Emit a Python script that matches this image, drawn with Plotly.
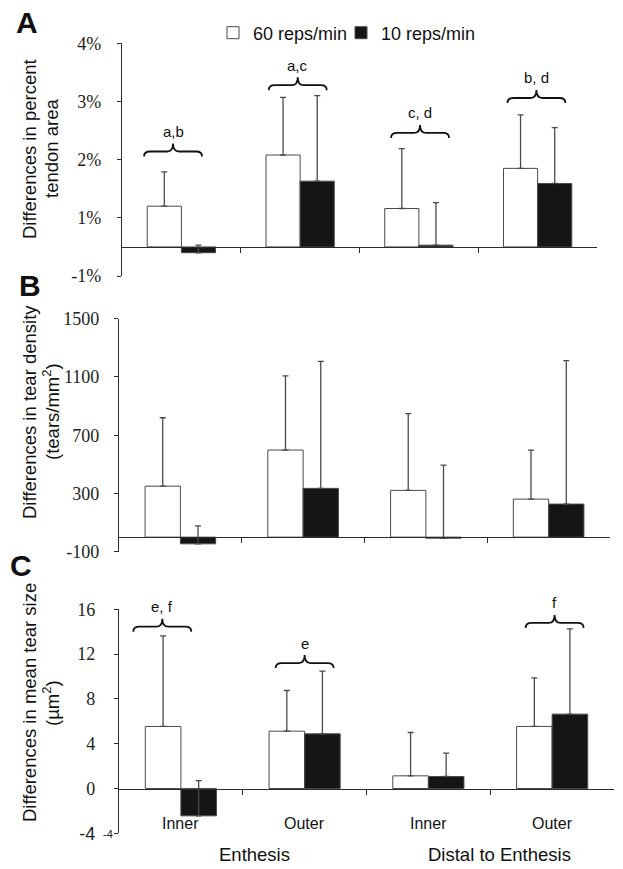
import plotly.graph_objects as go

W, H = 623, 869

# ---------------- data ----------------
categories = ["Inner", "Outer", "Inner", "Outer"]
regions = ["Enthesis", "Distal to Enthesis"]
series_names = ["60 reps/min", "10 reps/min"]

# Panel A: differences in percent tendon area (read against the printed tick labels)
area_60 = [1.20, 2.08, 1.16, 1.85]
area_60_err = [0.59, 0.99, 1.03, 0.92]
area_10 = [0.40, 1.63, 0.53, 1.59]
area_10_err = [0.13, 1.47, 0.73, 0.96]
area_base = 0.5
area_tickvals = [0, 1, 2, 3, 4]
area_ticktext = ["-1%", "1%", "2%", "3%", "4%"]
area_sig_labels = ["a,b", "a,c", "c, d", "b, d"]
area_sig_x = [-0.07, 0.98, 2.01, 2.99]
area_sig_y = [2.14, 3.28, 2.46, 3.06]

# Panel B: differences in tear density (tears/mm2)
density_60 = [350, 598, 321, 261]
density_60_err = [470, 509, 527, 337]
density_10 = [-46, 335, -7, 227]
density_10_err = [124, 872, 502, 985]
density_tickvals = [-100, 300, 700, 1100, 1500]

# Panel C: differences in mean tear size (um2)
size_60 = [5.54, 5.12, 1.13, 5.54]
size_60_err = [8.09, 3.63, 3.87, 4.34]
size_10 = [-2.44, 4.88, 1.07, 6.64]
size_10_err = [3.15, 5.60, 2.09, 7.62]
size_tickvals = [-4, 0, 4, 8, 12, 16]
size_sig_labels = ["e, f", "e", "f"]
size_sig_x = [-0.15, 1.0, 3.02]
size_sig_y = [14.45, 11.2, 14.78]

# ---------------- style ----------------
SANS = "Liberation Sans, Arial, sans-serif"
SERIF = "Liberation Serif, Times New Roman, serif"
AX = "#2b2b2b"
WHITE_FILL = "#ffffff"
BLACK_FILL = "#151515"
EDGE = "#4a4a4a"
ERR = "#4a4a4a"

def px_x(x):
    return x / W

def px_y(y):
    return 1 - y / H

# panel geometry in pixels
panels = {
    "A": dict(x=(122, 597), y=(43.3, 276.0), r=(0, 4), base=area_base, stand=12),
    "B": dict(x=(119, 610), y=(318.7, 551.7), r=(-100, 1500), base=0, stand=11),
    "C": dict(x=(119, 614), y=(609.3, 833.3), r=(-4, 16), base=0, stand=15),
}

fig = go.Figure()
xs = list(range(len(categories)))

def add_pair(idx, v60, e60, v10, e10, base, show):
    xa = "x" if idx == 1 else f"x{idx}"
    ya = "y" if idx == 1 else f"y{idx}"
    for name, vals, errs, fill, leg in [
        (series_names[0], v60, e60, WHITE_FILL, "legend"),
        (series_names[1], v10, e10, BLACK_FILL, "legend2"),
    ]:
        fig.add_trace(go.Bar(
            x=xs, y=[v - base for v in vals], base=base,
            name=name, showlegend=show, legendgroup=name, legend=leg,
            offsetgroup=name, xaxis=xa, yaxis=ya,
            marker=dict(color=fill, line=dict(color=EDGE, width=1)),
            error_y=dict(type="data", symmetric=False, array=errs,
                         arrayminus=[0] * len(errs), color=ERR,
                         thickness=1.3, width=3),
        ))

add_pair(1, area_60, area_60_err, area_10, area_10_err, area_base, True)
add_pair(2, density_60, density_60_err, density_10, density_10_err, 0, False)
add_pair(3, size_60, size_60_err, size_10, size_10_err, 0, False)

legend_style = dict(orientation="h", xanchor="left", yanchor="middle",
                    font=dict(family=SANS, size=18, color="#111"),
                    bgcolor="rgba(0,0,0,0)", itemclick=False)

layout = dict(
    width=W, height=H, margin=dict(l=0, r=0, t=0, b=0, autoexpand=False),
    paper_bgcolor="white", plot_bgcolor="white",
    barmode="group", bargap=0.425, bargroupgap=0,
    showlegend=True,
    legend=dict(x=px_x(213), y=px_y(33), **legend_style),
    legend2=dict(x=px_x(341), y=px_y(33), **legend_style),
)

ytick_sets = {
    "A": (area_tickvals, area_ticktext),
    "B": (density_tickvals, [str(v) for v in density_tickvals]),
    "C": (size_tickvals, ["<span style='font-family:Liberation Sans'>-4</span>"] +
          [str(v) for v in size_tickvals[1:]]),
}

for i, key in enumerate(["A", "B", "C"], start=1):
    p = panels[key]
    xd = [px_x(p["x"][0]), px_x(p["x"][1])]
    yd = [px_y(p["y"][1]), px_y(p["y"][0])]
    r0, r1 = p["r"]
    pos = yd[0] + (p["base"] - r0) / (r1 - r0) * (yd[1] - yd[0])
    sx = "" if i == 1 else str(i)
    tv, tt = ytick_sets[key]
    layout["xaxis" + sx] = dict(
        domain=xd, range=[-0.5, len(categories) - 0.5], anchor="free",
        position=pos, showline=True, linecolor=AX, linewidth=1.3,
        ticks="outside", ticklen=5, tickwidth=1.2, tickcolor=AX,
        tickvals=[0.5, 1.5, 2.5], showticklabels=False, showgrid=False,
        zeroline=False, fixedrange=True,
    )
    layout["yaxis" + sx] = dict(
        domain=yd, range=[r0, r1], anchor="x" + sx if i > 1 else "x",
        showline=True, linecolor=AX, linewidth=1.3, ticks="outside",
        ticklen=4, tickwidth=1.2, tickcolor=AX, tickvals=tv, ticktext=tt,
        tickfont=dict(family=SERIF, size=18, color="#222"),
        ticklabelstandoff=p["stand"], showgrid=False, zeroline=False,
        fixedrange=True,
    )

fig.update_layout(**layout)

# ---------------- significance braces ----------------
def brace_path(p, xc, yl):
    ppu_x = (p["x"][1] - p["x"][0]) / len(categories)
    ppu_y = (p["y"][1] - p["y"][0]) / (p["r"][1] - p["r"][0])
    hw = 29 / ppu_x
    d = 6 / ppu_x
    lo = 5 / ppu_y
    hi = 8 / ppu_y
    x0, x1 = xc - hw, xc + hw
    return (f"M{x0},{yl - lo} Q{x0},{yl} {x0 + d},{yl} L{xc - d},{yl} "
            f"Q{xc},{yl} {xc},{yl + hi} Q{xc},{yl} {xc + d},{yl} "
            f"L{x1 - d},{yl} Q{x1},{yl} {x1},{yl - lo}")

annotations = []
shapes = []
for key, labels, bx, by, xr, yr in [
    ("A", area_sig_labels, area_sig_x, area_sig_y, "x", "y"),
    ("C", size_sig_labels, size_sig_x, size_sig_y, "x3", "y3"),
]:
    p = panels[key]
    for lab, xc, yl in zip(labels, bx, by):
        shapes.append(dict(type="path", xref=xr, yref=yr, path=brace_path(p, xc, yl),
                           line=dict(color="#111", width=1.8)))
        annotations.append(dict(xref=xr, yref=yr, x=xc, y=yl, yshift=20, text=lab,
                                showarrow=False, font=dict(family=SANS, size=15, color="#111"),
                                xanchor="center", yanchor="middle"))

# panel letters
for lab, x, y in [("A", 27, 23), ("B", 29.5, 285), ("C", 21, 565)]:
    annotations.append(dict(xref="paper", yref="paper", x=px_x(x), y=px_y(y),
                            text=f"<b>{lab}</b>", showarrow=False,
                            font=dict(family=SANS, size=30, color="#111"),
                            xanchor="center", yanchor="middle"))

# y-axis titles (two lines each)
for l1, l2, yc in [
    ("Differences in percent", "tendon area", 149),
    ("Differences in tear density", "(tears/mm<sup>2</sup>)", 412),
    ("Differences in mean tear size", "(\u00b5m<sup>2</sup>)", 703),
]:
    for txt, xc in [(l1, 29), (l2, 51)]:
        annotations.append(dict(xref="paper", yref="paper", x=px_x(xc), y=px_y(yc),
                                text=txt, textangle=-90, showarrow=False,
                                font=dict(family=SANS, size=18.5, color="#111"),
                                xanchor="center", yanchor="middle"))

# category labels under panel C
for i, c in enumerate(categories):
    annotations.append(dict(xref="x3", yref="paper", x=i, y=px_y(823.5), text=c,
                            showarrow=False, font=dict(family=SANS, size=16, color="#111"),
                            xanchor="center", yanchor="middle"))
for r, xc in zip(regions, [254, 499]):
    annotations.append(dict(xref="paper", yref="paper", x=px_x(xc), y=px_y(854), text=r,
                            showarrow=False, font=dict(family=SANS, size=18.5, color="#111"),
                            xanchor="center", yanchor="middle"))

# stray small "-4" next to bottom tick of panel C
annotations.append(dict(xref="paper", yref="paper", x=px_x(107.5), y=px_y(834), text="-4",
                        showarrow=False, font=dict(family=SANS, size=11, color="#222"),
                        xanchor="center", yanchor="middle"))

fig.update_layout(annotations=annotations, shapes=shapes)
# remove the browser's default body margin so the figure fills the window
fig.write_html("out.html", config={"displayModeBar": False},
               post_script="document.body.style.margin='0px';")
